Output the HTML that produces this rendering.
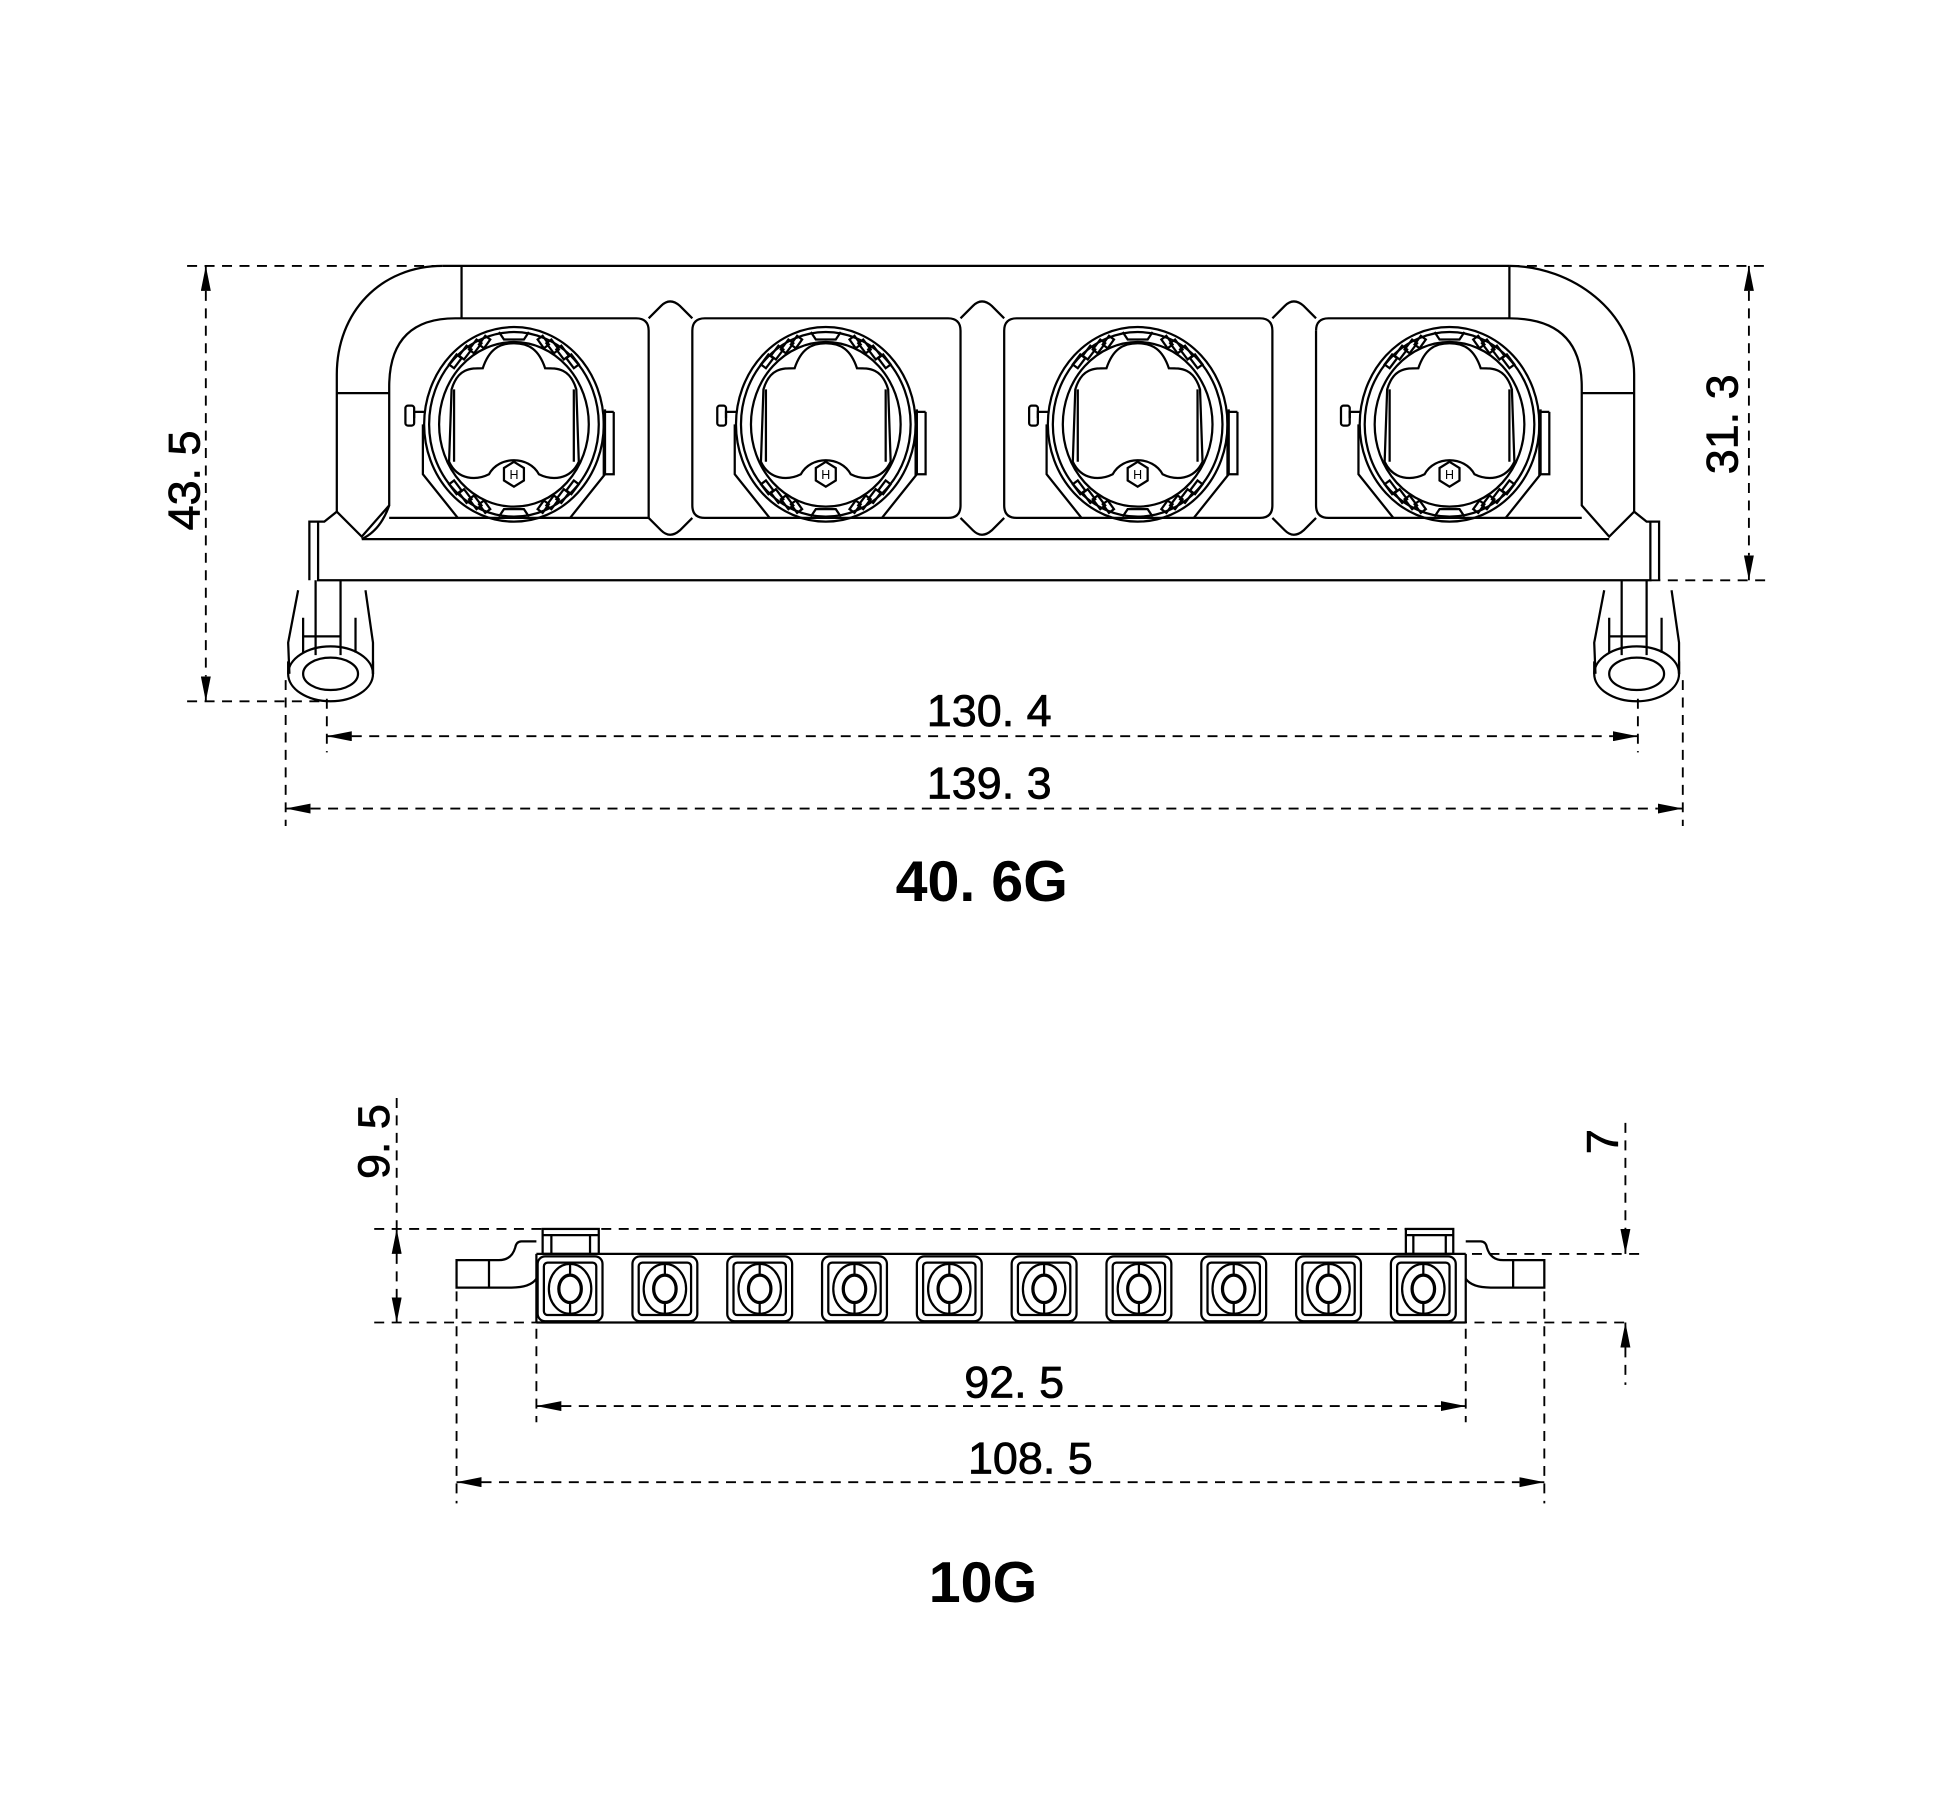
<!DOCTYPE html>
<html><head><meta charset="utf-8"><style>
html,body{margin:0;padding:0;background:#fff;}
svg{display:block;}
text{font-family:"Liberation Sans","DejaVu Sans",sans-serif;fill:#000;}
</style></head><body>
<svg width="1946" height="1793" viewBox="0 0 1560 1437" xmlns="http://www.w3.org/2000/svg">
<defs>
<marker id="a" viewBox="0 0 20 8" refX="20" refY="4" markerWidth="20" markerHeight="8" markerUnits="userSpaceOnUse" orient="auto"><path d="M0,0 L20,4 L0,8 Z" fill="#000"/></marker>
<g id="lamp" fill="none" stroke="#000" stroke-width="1.8">
  <path d="M-80,-5 L-80,-10 L-72,-10 M80,-10 L72,-10 L72,40 L80,40 L80,-10"/>
  <rect x="-87" y="-15" width="7" height="16" rx="2"/>
  <path d="M-73,0 L-73,40 L-45,75 M73,-12 L73,40 L45,75"/>
  <ellipse cx="0" cy="0" rx="72" ry="78"/>
  <ellipse cx="0" cy="0" rx="68" ry="74"/>
  <ellipse cx="0" cy="0" rx="60" ry="66"/>
  <path d="M-50,-28 C-45,-45 -35,-45 -25,-45 C-20,-60 -12,-65 0,-65 C12,-65 20,-60 25,-45 C35,-45 45,-45 50,-28 L52,30 C45,45 30,45 20,40 C12,25 -12,25 -20,40 C-30,45 -45,45 -52,30 Z"/>
  <path d="M-48,-28 L-48,30 M48,-28 L48,30"/>
  <path d="M-8,35 L0,30 L8,35 L8,45 L0,50 L-8,45 Z"/>
  <text x="0" y="44" font-size="10" text-anchor="middle" stroke="none">H</text>
  <path d="M-12,-74 L-8,-68 L8,-68 L12,-74 M-12,74 L-8,68 L8,68 L12,74"/>
  <path d="M-52,-48 l6,-8 l4,3 l-6,8 z M-44,-55 l6,-8 l4,3 l-6,8 z M-36,-60 l6,-8 l4,3 l-6,8 z M-28,-64 l5,-7 l4,3 l-5,7 z"/>
  <path d="M52,-48 l-6,-8 l-4,3 l6,8 z M44,-55 l-6,-8 l-4,3 l6,8 z M36,-60 l-6,-8 l-4,3 l6,8 z M28,-64 l-5,-7 l-4,3 l5,7 z"/>
  <path d="M-52,48 l6,8 l4,-3 l-6,-8 z M-44,55 l6,8 l4,-3 l-6,-8 z M-36,60 l6,8 l4,-3 l-6,-8 z M-28,64 l5,7 l4,-3 l-5,-7 z"/>
  <path d="M52,48 l-6,8 l-4,-3 l6,-8 z M44,55 l-6,8 l-4,-3 l6,-8 z M36,60 l-6,8 l-4,-3 l6,-8 z M28,64 l-5,7 l-4,-3 l5,-7 z"/>
</g>
<g id="cell" fill="none" stroke="#000" stroke-width="1.8">
  <rect x="-26" y="-26" width="52" height="52" rx="6"/>
  <rect x="-21" y="-21" width="42" height="42" rx="3"/>
  <ellipse cx="0" cy="0" rx="17" ry="20"/>
  <ellipse cx="0" cy="0" rx="9" ry="11" stroke-width="2.6"/>
  <path d="M0,-20 L0,-11 M0,11 L0,20"/>
</g>
<g id="foot" fill="none" stroke="#000" stroke-width="1.8">
  <path d="M-26,-62 L-34,-20 L-33,5 M28,-62 L34,-20 L34,5"/>
  <path d="M-34,-5 L-34,5 M34,-5 L34,5"/>
  <ellipse cx="0" cy="5" rx="34" ry="22"/>
  <ellipse cx="0" cy="5" rx="22" ry="13"/>
  <path d="M-12,-70 L-12,-10 M8,-70 L8,-10 M-22,-40 L-22,-12 M20,-40 L20,-12 M-22,-25 L8,-25"/>
</g>
</defs>

<g fill="none" stroke="#000" stroke-width="1.8">
  <path d="M355,213 L1210,213"/>
  <path d="M370,213 L370,255 M1210,213 L1210,255"/>
  <path d="M355,213 C305,213 270,250 270,300 L270,410 L260,418 L248,418 L248,465"/>
  <path d="M1210,213 C1260,213 1310,250 1310,300 L1310,410 L1320,418 L1330,418 L1330,465"/>
  <path d="M270,315 L312,315 M1268,315 L1310,315"/>
  <path d="M520,415 L520,265 Q520,255 510,255 L365,255 Q312,255 312,310 L312,405 L290,430 L270,410"/>
  <path d="M312,405 Q305,425 290,432"/>
  <path d="M555,265 Q555,255 565,255 L760,255 Q770,255 770,265 L770,405 Q770,415 760,415 L565,415 Q555,415 555,405 Z"/>
  <path d="M805,265 Q805,255 815,255 L1010,255 Q1020,255 1020,265 L1020,405 Q1020,415 1010,415 L815,415 Q805,415 805,405 Z"/>
  <path d="M1055,265 Q1055,255 1065,255 L1210,255 Q1268,255 1268,310 L1268,405 L1290,430 L1310,410"/>
  <path d="M1055,265 L1055,405 Q1055,415 1065,415 L1268,415"/>
  <path d="M312,415 L520,415"/>
  <path d="M520,255 L530,245 Q537,238 545,245 L555,255 M520,415 L530,425 Q537,432 545,425 L555,415"/>
  <path d="M770,255 L780,245 Q787,238 795,245 L805,255 M770,415 L780,425 Q787,432 795,425 L805,415"/>
  <path d="M1020,255 L1030,245 Q1037,238 1045,245 L1055,255 M1020,415 L1030,425 Q1037,432 1045,425 L1055,415"/>
  <path d="M255,418 L255,465 L1323,465 L1323,418"/>
  <path d="M290,432 L1290,432"/>
</g>
<use href="#lamp" x="412" y="340"/>
<use href="#lamp" x="662" y="340"/>
<use href="#lamp" x="912" y="340"/>
<use href="#lamp" x="1162" y="340"/>
<use href="#foot" x="265" y="535"/>
<use href="#foot" x="1312" y="535"/>

<g fill="none" stroke="#000" stroke-width="1.5" stroke-dasharray="8,6">
  <path d="M150,213 L355,213 M150,562 L262,562 M1210,213 L1420,213 M1323,465 L1420,465"/>
  <path d="M229,545 L229,662 M262,560 L262,603 M1313,560 L1313,603 M1349,545 L1349,662"/>
  <path d="M165,233 L165,542 M1402,233 L1402,445"/>
  <path d="M282,590 L1293,590 M249,648 L1329,648"/>
</g>
<g stroke="#000" stroke-width="1.5" fill="none">
  <path d="M165,232 L165,213" marker-end="url(#a)"/>
  <path d="M165,543 L165,562" marker-end="url(#a)"/>
  <path d="M1402,232 L1402,213" marker-end="url(#a)"/>
  <path d="M1402,446 L1402,465" marker-end="url(#a)"/>
  <path d="M282,590 L262,590" marker-end="url(#a)"/>
  <path d="M1293,590 L1313,590" marker-end="url(#a)"/>
  <path d="M249,648 L229,648" marker-end="url(#a)"/>
  <path d="M1329,648 L1349,648" marker-end="url(#a)"/>
</g>
<text x="793" y="582" font-size="36" text-anchor="middle" stroke="#000" stroke-width="0.6">130. 4</text>
<text x="793" y="640" font-size="36" text-anchor="middle" stroke="#000" stroke-width="0.6">139. 3</text>
<text x="787" y="722" font-size="46" font-weight="bold" text-anchor="middle">40. 6G</text>
<text transform="translate(160,385) rotate(-90)" font-size="36" text-anchor="middle" stroke="#000" stroke-width="0.6">43. 5</text>
<text transform="translate(1393,340) rotate(-90)" font-size="36" text-anchor="middle" stroke="#000" stroke-width="0.6">31. 3</text>

<g fill="none" stroke="#000" stroke-width="1.8">
  <path d="M430,1005 L1175,1005 M430,1060 L1175,1060"/>
  <path d="M430,1005 L430,1060 M1175,1005 L1175,1060"/>
  <path d="M430,995 L418,995 Q414,995 413,1000 Q410,1010 400,1010 L366,1010 L366,1032 L410,1032 Q425,1032 430,1025"/>
  <path d="M392,1010 L392,1032"/>
  <path d="M1175,995 L1187,995 Q1191,995 1192,1000 Q1195,1010 1205,1010 L1238,1010 L1238,1032 L1195,1032 Q1180,1032 1175,1025"/>
  <path d="M1213,1010 L1213,1032"/>
  <rect x="435" y="985" width="45" height="20"/>
  <path d="M435,990 L480,990 M442,990 L442,1005 M473,990 L473,1005"/>
  <rect x="1127" y="985" width="38" height="20"/>
  <path d="M1127,990 L1165,990 M1133,990 L1133,1005 M1159,990 L1159,1005"/>
</g>
<use href="#cell" x="457" y="1033"/>
<use href="#cell" x="533" y="1033"/>
<use href="#cell" x="609" y="1033"/>
<use href="#cell" x="685" y="1033"/>
<use href="#cell" x="761" y="1033"/>
<use href="#cell" x="837" y="1033"/>
<use href="#cell" x="913" y="1033"/>
<use href="#cell" x="989" y="1033"/>
<use href="#cell" x="1065" y="1033"/>
<use href="#cell" x="1141" y="1033"/>

<g fill="none" stroke="#000" stroke-width="1.5" stroke-dasharray="8,6">
  <path d="M300,985 L1165,985 M300,1060 L1305,1060 M1180,1005 L1320,1005"/>
  <path d="M318,880 L318,985 M318,1005 L318,1040"/>
  <path d="M1303,900 L1303,985 M1303,1080 L1303,1110"/>
  <path d="M430,1065 L430,1140 M1175,1065 L1175,1140 M366,1035 L366,1205 M1238,1035 L1238,1205"/>
  <path d="M450,1127 L1155,1127 M386,1188 L1218,1188"/>
</g>
<g stroke="#000" stroke-width="1.5" fill="none">
  <path d="M318,1005 L318,985" marker-end="url(#a)"/>
  <path d="M318,1040 L318,1060" marker-end="url(#a)"/>
  <path d="M1303,985 L1303,1005" marker-end="url(#a)"/>
  <path d="M1303,1080 L1303,1060" marker-end="url(#a)"/>
  <path d="M450,1127 L430,1127" marker-end="url(#a)"/>
  <path d="M1155,1127 L1175,1127" marker-end="url(#a)"/>
  <path d="M386,1188 L366,1188" marker-end="url(#a)"/>
  <path d="M1218,1188 L1238,1188" marker-end="url(#a)"/>
</g>
<text x="813" y="1120" font-size="36" text-anchor="middle" stroke="#000" stroke-width="0.6">92. 5</text>
<text x="826" y="1181" font-size="36" text-anchor="middle" stroke="#000" stroke-width="0.6">108. 5</text>
<text x="788" y="1284" font-size="46" font-weight="bold" text-anchor="middle">10G</text>
<text transform="translate(312,915) rotate(-90)" font-size="36" text-anchor="middle" stroke="#000" stroke-width="0.6">9. 5</text>
<text transform="translate(1297,915) rotate(-90)" font-size="36" text-anchor="middle" stroke="#000" stroke-width="0.6">7</text>
</svg>
</body></html>
